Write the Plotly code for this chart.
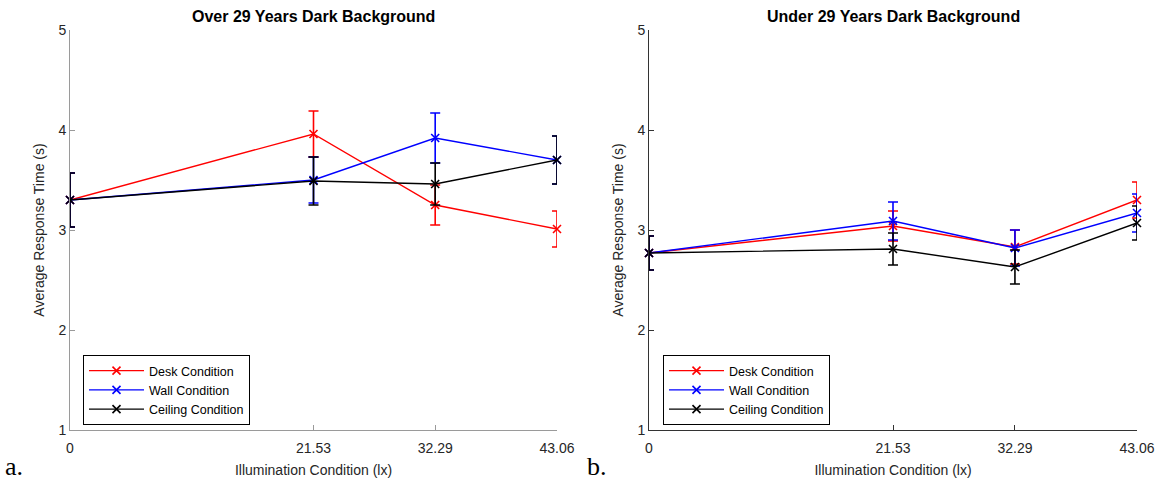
import plotly.graph_objects as go

W, H = 1161, 481

# ---- data ----
illum = [0, 21.53, 32.29, 43.06]
x_ticklabels = ["0", "21.53", "32.29", "43.06"]
series_names = ["Desk Condition", "Wall Condition", "Ceiling Condition"]
series_colors = ["#FF0000", "#0000FF", "#000000"]

over_desk = [3.30, 3.96, 3.25, 3.01]
over_desk_err = [0.27, 0.23, 0.20, 0.18]
over_wall = [3.30, 3.50, 3.92, 3.70]
over_wall_err = [0.27, 0.23, 0.25, 0.24]
over_ceil = [3.30, 3.49, 3.46, 3.70]
over_ceil_err = [0.27, 0.24, 0.21, 0.24]

under_desk = [2.77, 3.04, 2.83, 3.30]
under_desk_err = [0.17, 0.15, 0.17, 0.18]
under_wall = [2.77, 3.09, 2.82, 3.17]
under_wall_err = [0.17, 0.19, 0.18, 0.19]
under_ceil = [2.77, 2.81, 2.63, 3.07]
under_ceil_err = [0.17, 0.16, 0.17, 0.17]

panel_titles = ["Over 29 Years Dark Background", "Under 29 Years Dark Background"]
panel_letters = ["a.", "b."]
y_title = "Average Response Time (s)"
x_title = "Illumination Condition (lx)"

fig = go.Figure()

panels = [
    ([over_desk, over_wall, over_ceil], [over_desk_err, over_wall_err, over_ceil_err], "x", "y", "legend"),
    ([under_desk, under_wall, under_ceil], [under_desk_err, under_wall_err, under_ceil_err], "x2", "y2", "legend2"),
]

for vals, errs, xa, ya, lg in panels:
    for name, col, v, e in zip(series_names, series_colors, vals, errs):
        fig.add_trace(go.Scatter(
            x=illum, y=v, name=name, mode="lines+markers",
            xaxis=xa, yaxis=ya, legend=lg, cliponaxis=False,
            line=dict(color=col, width=1.4),
            marker=dict(symbol="x-thin", size=8, color=col, line=dict(color=col, width=1.6)),
            error_y=dict(type="data", array=e, visible=True, color=col, thickness=1.6, width=5),
        ))

pxl = lambda p: p / W
pyl = lambda p: 1 - p / H

font = dict(family="Liberation Sans, Arial, sans-serif", size=14, color="#262626")

def xaxis(dom, linecol):
    return dict(domain=dom, range=[0, 43.06], tickvals=illum, ticktext=x_ticklabels,
                showgrid=False, zeroline=False, showline=True, linecolor=linecol, linewidth=1,
                ticks="inside", ticklen=5, tickcolor=linecol, tickfont=font, automargin=False,
                ticklabelstandoff=5,
                title=dict(text=x_title, font=font, standoff=10))

def yaxis(anchor, linecol):
    return dict(domain=[pyl(430), pyl(30)], range=[1, 5], tickvals=[1, 2, 3, 4, 5],
                anchor=anchor, showgrid=False, zeroline=False, showline=True, linecolor=linecol,
                linewidth=1, ticks="inside", ticklen=5, tickcolor=linecol, tickfont=font,
                automargin=False, title=dict(text=y_title, font=font, standoff=10))

legend_common = dict(bgcolor="white", bordercolor="#000000", borderwidth=1,
                     font=dict(family="Liberation Sans, Arial, sans-serif", size=12.5, color="#000"),
                     tracegroupgap=0, itemwidth=55, xanchor="left", yanchor="top")

fig.update_layout(
    width=W, height=H, margin=dict(l=0, r=0, t=0, b=0, autoexpand=False),
    paper_bgcolor="white", plot_bgcolor="white",
    xaxis=dict(xaxis([pxl(70), pxl(557)], "#9a9a9a"), anchor="y"),
    yaxis=yaxis("x", "#9a9a9a"),
    xaxis2=dict(xaxis([pxl(649), pxl(1137)], "#333333"), anchor="y2"),
    yaxis2=yaxis("x2", "#333333"),
    legend=dict(legend_common, x=pxl(83), y=pyl(355)),
    legend2=dict(legend_common, x=pxl(663), y=pyl(355)),
    showlegend=True,
)

annotations = []
for title, cx in zip(panel_titles, [313, 893]):
    annotations.append(dict(text="<b>%s</b>" % title, x=pxl(cx), y=pyl(16), xref="paper", yref="paper",
                            showarrow=False, xanchor="center", yanchor="middle",
                            font=dict(family="Liberation Sans, Arial, sans-serif", size=16, color="#000")))
for letter, lx in zip(panel_letters, [3, 585]):
    annotations.append(dict(text=letter, x=pxl(lx), y=pyl(466), xref="paper", yref="paper",
                            showarrow=False, xanchor="left", yanchor="middle",
                            font=dict(family="Liberation Serif, Times New Roman, serif", size=26, color="#000")))
fig.update_layout(annotations=annotations)

fig.write_html("out.html")
